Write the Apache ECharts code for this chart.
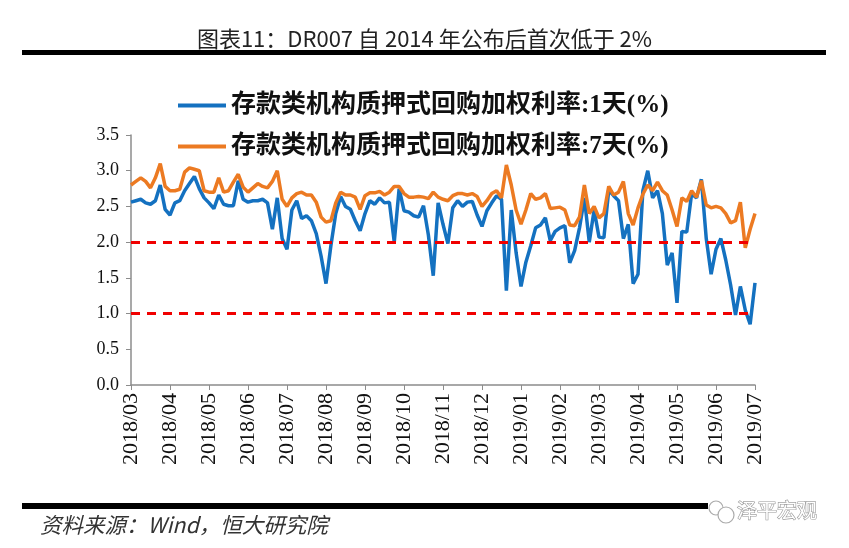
<!DOCTYPE html>
<html>
<head>
<meta charset="utf-8">
<script src="https://cdn.jsdelivr.net/npm/echarts@6/dist/echarts.min.js"></script>
<style>
  html, body { margin: 0; padding: 0; background: #fff; }
  #chart { width: 849px; height: 548px; }
</style>
</head>
<body>
<div id="chart"></div>
<script>
// Month tick labels (each month sampled by 8 readings, last label = end point)
const months = ['2018/03','2018/04','2018/05','2018/06','2018/07','2018/08','2018/09','2018/10',
  '2018/11','2018/12','2019/01','2019/02','2019/03','2019/04','2019/05','2019/06','2019/07'];
const perMonth = 8;

// 存款类机构质押式回购加权利率:1天(%)
const rate1d = [
  2.56, 2.58, 2.60, 2.55, 2.53, 2.58, 2.80, 2.46,
  2.38, 2.55, 2.58, 2.72, 2.82, 2.92, 2.75, 2.62,
  2.55, 2.47, 2.66, 2.53, 2.51, 2.51, 2.86, 2.60,
  2.56, 2.58, 2.58, 2.60, 2.55, 2.18, 2.62, 2.05,
  1.90, 2.45, 2.58, 2.33, 2.37, 2.30, 2.12, 1.80,
  1.42, 1.95, 2.40, 2.64, 2.50, 2.46, 2.30, 2.16,
  2.40, 2.58, 2.53, 2.62, 2.55, 2.56, 2.00, 2.75,
  2.44, 2.42, 2.37, 2.35, 2.51, 2.10, 1.53, 2.55,
  2.25, 1.98, 2.48, 2.58, 2.50, 2.56, 2.57, 2.38,
  2.22, 2.44, 2.55, 2.65, 2.60, 1.32, 2.45, 1.85,
  1.38, 1.72, 1.95, 2.20, 2.24, 2.34, 2.02, 2.15,
  2.20, 2.23, 1.71, 1.88, 2.20, 2.62, 2.00, 2.45,
  2.07, 2.06, 2.73, 2.65, 2.58, 2.05, 2.25, 1.42,
  1.55, 2.72, 3.00, 2.62, 2.72, 2.40, 1.68, 1.85,
  1.15, 2.15, 2.14, 2.68, 2.62, 2.88, 2.05, 1.55,
  1.90, 2.05, 1.75, 1.40, 0.98, 1.38, 1.05, 0.85,
  1.43
];

// 存款类机构质押式回购加权利率:7天(%)
const rate7d = [
  2.80, 2.85, 2.90, 2.85, 2.76, 2.90, 3.10, 2.78,
  2.72, 2.72, 2.74, 2.98, 3.04, 3.02, 3.00, 2.72,
  2.70, 2.70, 2.90, 2.70, 2.72, 2.84, 2.95, 2.77,
  2.70, 2.76, 2.82, 2.78, 2.76, 2.85, 3.00, 2.60,
  2.50, 2.62, 2.68, 2.70, 2.66, 2.66, 2.56, 2.35,
  2.28, 2.30, 2.55, 2.70, 2.66, 2.66, 2.63, 2.46,
  2.65, 2.69, 2.69, 2.71, 2.66, 2.70, 2.78, 2.78,
  2.68, 2.63, 2.63, 2.64, 2.63, 2.61, 2.70, 2.63,
  2.60, 2.58, 2.65, 2.68, 2.68, 2.66, 2.68, 2.64,
  2.50, 2.58, 2.68, 2.72, 2.62, 3.08, 2.80, 2.45,
  2.25, 2.45, 2.68, 2.60, 2.62, 2.68, 2.47, 2.48,
  2.49, 2.45, 2.24, 2.23, 2.35, 2.80, 2.40, 2.50,
  2.34, 2.40, 2.78, 2.66, 2.70, 2.85, 2.40, 2.24,
  2.48, 2.67, 2.80, 2.72, 2.84, 2.72, 2.66, 2.45,
  2.22, 2.62, 2.57, 2.72, 2.63, 2.86, 2.52, 2.48,
  2.50, 2.48, 2.40, 2.27, 2.30, 2.56, 1.92, 2.18,
  2.40
];

const refLines = [2.0, 1.0];
const seriesNames = ['存款类机构质押式回购加权利率:1天(%)', '存款类机构质押式回购加权利率:7天(%)'];

// Build category list: month label at first reading of each month
const categories = [];
for (let i = 0; i < months.length - 1; i++) {
  categories.push(months[i]);
  for (let k = 1; k < perMonth; k++) categories.push(months[i] + '#' + k);
}
categories.push(months[months.length - 1]);

const chart = echarts.init(document.getElementById('chart'), null, { renderer: 'canvas' });

const option = {
  animation: false,
  backgroundColor: '#fff',
  title: {
    text: '图表11：DR007 自 2014 年公布后首次低于 2%',
    left: 'center',
    top: 23,
    textStyle: { fontFamily: '"Noto Sans CJK SC"', fontSize: 22, fontWeight: 'normal', color: '#222' }
  },
  legend: {
    orient: 'vertical',
    left: 173,
    top: 88,
    icon: 'rect',
    itemWidth: 48,
    itemHeight: 4,
    itemGap: 16,
    textStyle: { fontFamily: '"Liberation Serif", "Noto Sans CJK SC"', fontSize: 25, fontWeight: 'bold', color: '#111' },
    data: seriesNames
  },
  grid: { left: 131, right: 94, top: 135, bottom: 163 },
  xAxis: {
    type: 'category',
    data: categories,
    boundaryGap: false,
    axisLine: { lineStyle: { color: '#8c8c8c', width: 1.5 } },
    axisTick: { interval: perMonth - 1, length: 5, lineStyle: { color: '#8c8c8c' } },
    axisLabel: {
      interval: perMonth - 1,
      rotate: 90,
      margin: 8,
      fontFamily: '"Liberation Serif"',
      fontSize: 22,
      color: '#111'
    },
    splitLine: { show: false }
  },
  yAxis: {
    type: 'value',
    min: 0,
    max: 3.5,
    interval: 0.5,
    axisLine: { show: true, lineStyle: { color: '#8c8c8c', width: 1.5 } },
    axisTick: { show: true, length: 5, lineStyle: { color: '#8c8c8c' } },
    axisLabel: {
      formatter: v => v.toFixed(1),
      margin: 12,
      fontFamily: '"Liberation Serif"',
      fontSize: 18,
      color: '#111'
    },
    splitLine: { show: false }
  },
  series: [
    {
      name: seriesNames[0],
      type: 'line',
      data: rate1d,
      showSymbol: false,
      itemStyle: { color: '#1471C0' },
      lineStyle: { color: '#1471C0', width: 3.5 },
      markLine: {
        silent: true,
        symbol: 'none',
        label: { show: false },
        lineStyle: { color: '#F00000', type: [9, 7], width: 3 },
        data: refLines.map(v => ({ yAxis: v }))
      },
      z: 2
    },
    {
      name: seriesNames[1],
      type: 'line',
      data: rate7d,
      showSymbol: false,
      itemStyle: { color: '#EC7A22' },
      lineStyle: { color: '#EC7A22', width: 3.5 },
      z: 3
    }
  ],
  graphic: [
    { type: 'rect', shape: { x: 22, y: 50, width: 804, height: 5 }, style: { fill: '#000' } },
    { type: 'rect', shape: { x: 22, y: 503, width: 686, height: 6 }, style: { fill: '#000' } },
    {
      type: 'text', x: 40, y: 514,
      style: { text: '资料来源：Wind，恒大研究院', fontFamily: '"Noto Sans CJK SC"', fontStyle: 'italic', fontSize: 21.5, fill: '#333' }
    },
    { type: 'circle', shape: { cx: 716, cy: 508, r: 7 }, style: { fill: '#fff', stroke: '#aaa', lineWidth: 1.2 } },
    { type: 'circle', shape: { cx: 726, cy: 515, r: 8 }, style: { fill: '#fff', stroke: '#aaa', lineWidth: 1.2 } },
    {
      type: 'text', x: 737, y: 500,
      style: { text: '泽平宏观', fontFamily: '"Noto Sans CJK SC"', fontSize: 20, fill: '#fff', stroke: '#999', lineWidth: 1.2 }
    }
  ]
};

chart.setOption(option);
</script>
</body>
</html>
